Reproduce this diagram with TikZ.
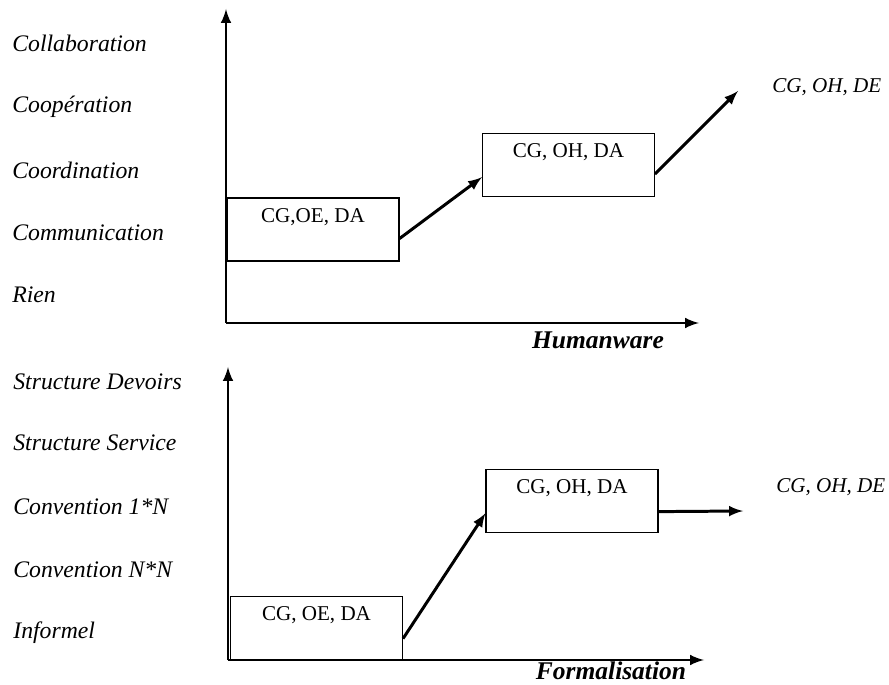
\documentclass[tikz,border=0pt]{standalone}
\usepackage{fontspec}
\setmainfont{Liberation Serif}
\usetikzlibrary{arrows,positioning}

\begin{document}
\begin{tikzpicture}
	[x=0.02cm,y=-0.02cm,
	level/.style={anchor=west,inner sep=0pt,font=\fontsize{13.5}{15}\selectfont\itshape},
	axis name/.style={inner sep=0pt,font=\fontsize{14.5}{16}\selectfont\bfseries\itshape},
	state box/.style={draw,line width=0.6pt,inner sep=0pt,minimum width=3.44cm,minimum height=1.26cm},
	box text/.style={inner sep=0pt,font=\fontsize{12}{14}\selectfont},
	goal/.style={anchor=west,inner sep=0pt,font=\fontsize{12}{14}\selectfont\itshape},
	axis/.style={line width=1.7pt,-latex},
	jump/.style={line width=1.7pt,-latex}
	]
	\useasboundingbox (0,0) rectangle (889,685);

	% upper chart: Humanware
	\node [level] (c1) at (12,43) {Collaboration};
	\node [level] (c2) at (12,107) {Coopération};
	\node [level] (c3) at (12,170) {Coordination};
	\node [level] (c4) at (12,233) {Communication};
	\node [level] (c5) at (12,295) {Rien};

	\coordinate (o1) at (226,323);
	\coordinate (y1) at (226,9);
	\coordinate (x1) at (699,323);
	\draw [axis] (o1) -- (y1);
	\draw [axis] (o1) -- (x1);
	\node [axis name] (h) at (598,340) {Humanware};

	\node [state box] (b1) at (313,229.5) {};
	\node [box text] (t1) at (313,217) {CG,OE, DA};
	\node [state box] (b2) at (568.5,165) {};
	\node [box text] (t2) at (568.5,152) {CG, OH, DA};
	\coordinate (e1) at (738,91);
	\node [goal] (g1) at (772,87) {CG, OH, DE};

	\path
	(b1.-6) edge[jump] (b2.188)
	(b2.-6) edge[jump] (e1)
	;

	% lower chart: Formalisation
	\node [level] (f1) at (13,382) {Structure Devoirs};
	\node [level] (f2) at (13,443) {Structure Service};
	\node [level] (f3) at (13,507) {Convention 1*N};
	\node [level] (f4) at (13,570) {Convention N*N};
	\node [level] (f5) at (13,633) {Informel};

	\coordinate (o2) at (228,660);
	\coordinate (y2) at (228,367);
	\coordinate (x2) at (704,660);
	\draw [axis] (o2) -- (y2);
	\draw [axis] (o2) -- (x2);
	\node [axis name] (fo) at (611,671) {Formalisation};

	\node [state box] (b3) at (316.5,628) {};
	\node [box text] (t3) at (316.5,615) {CG, OE, DA};
	\node [state box] (b4) at (572,501) {};
	\node [box text] (t4) at (572,488) {CG, OH, DA};
	\coordinate (e2) at (743,511);
	\node [goal] (g2) at (776,487) {CG, OH, DE};

	\path
	(b3.-7) edge[jump] (b4.188)
	(b4.-7) edge[jump] (e2)
	;
\end{tikzpicture}
\end{document}
